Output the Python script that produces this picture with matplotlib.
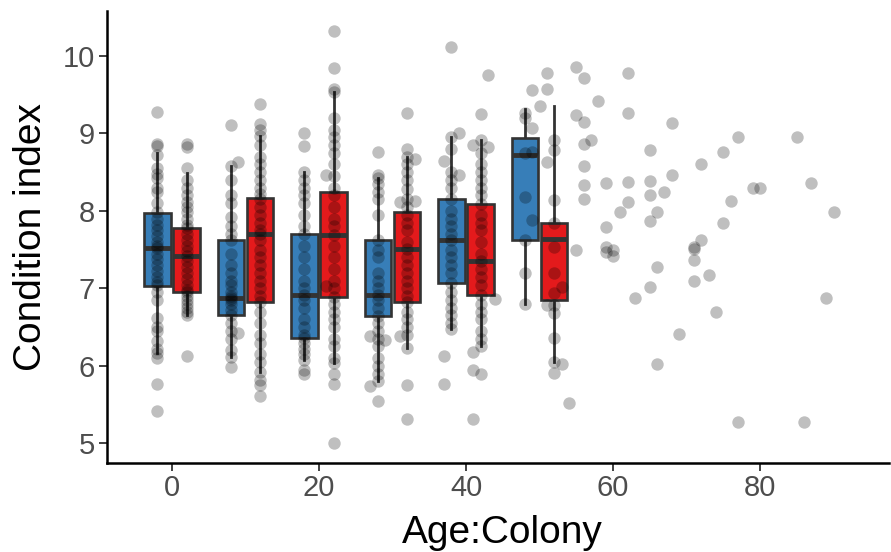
import matplotlib
matplotlib.use("Agg")
import matplotlib.pyplot as plt

plt.rcParams['font.family'] = ['Liberation Sans', 'DejaVu Sans']

# ---- box summary stats (Age:Colony groups) ----
box_x = [-2, 2, 8, 12, 18, 22, 28, 32, 38, 42, 48, 52]
box_colony = ['A', 'B', 'A', 'B', 'A', 'B', 'A', 'B', 'A', 'B', 'A', 'B']
q1 = [7.03, 6.95, 6.65, 6.83, 6.36, 6.89, 6.64, 6.83, 7.07, 6.91, 7.63, 6.85]
med = [7.52, 7.42, 6.88, 7.70, 6.91, 7.69, 6.92, 7.51, 7.62, 7.35, 8.72, 7.64]
q3 = [7.97, 7.78, 7.62, 8.17, 7.70, 8.25, 7.63, 7.99, 8.15, 8.09, 8.94, 7.85]
whislo = [6.16, 6.66, 6.11, 5.92, 6.07, 6.04, 5.80, 6.23, 6.48, 6.26, 6.80, 6.05]
whishi = [8.75, 8.49, 8.58, 8.97, 8.50, 9.53, 8.42, 8.70, 8.95, 8.91, 9.32, 9.36]

# ---- raw points ----
pts_m2 = [9.28, 8.86, 8.84, 8.72, 8.55, 8.48, 8.42, 8.30, 8.25, 8.10, 7.98, 7.90, 7.82,
          7.75, 7.68, 7.60, 7.55, 7.52, 7.45, 7.38, 7.30, 7.22, 7.15, 7.08, 7.04, 6.95,
          6.85, 6.62, 6.50, 6.45, 6.32, 6.22, 6.16, 6.10, 5.77, 5.42]
pts_2 = [8.86, 8.82, 8.56, 8.40, 8.30, 8.20, 8.12, 8.05, 7.98, 7.90, 7.82, 7.78, 7.70,
         7.62, 7.55, 7.48, 7.42, 7.35, 7.28, 7.20, 7.12, 7.05, 6.98, 6.95, 6.90, 6.85,
         6.80, 6.75, 6.70, 6.66, 6.13]
pts_8 = [9.11, 8.58, 8.40, 8.20, 8.10, 7.92, 7.80, 7.70, 7.62, 7.45, 7.30, 7.20, 7.10,
         7.05, 6.95, 6.90, 6.88, 6.85, 6.80, 6.72, 6.65, 6.55, 6.45, 6.35, 6.20, 6.11, 5.99]
pts_9 = [8.63, 6.43]
pts_12 = [9.38, 9.12, 9.05, 8.97, 8.85, 8.70, 8.60, 8.50, 8.40, 8.30, 8.22, 8.15, 8.05,
          7.95, 7.85, 7.75, 7.70, 7.62, 7.50, 7.40, 7.30, 7.20, 7.10, 7.00, 6.90, 6.83,
          6.70, 6.55, 6.40, 6.30, 6.15, 6.05, 5.92, 5.82, 5.75, 5.61]
pts_18 = [9.00, 8.84, 8.50, 8.40, 8.30, 8.20, 8.10, 7.95, 7.80, 7.70, 7.55, 7.40, 7.25,
          7.10, 7.00, 6.92, 6.85, 6.75, 6.60, 6.50, 6.40, 6.36, 6.30, 6.22, 6.15, 6.07,
          5.95, 5.89]
pts_21 = [8.47, 7.03]
pts_22 = [10.32, 9.84, 9.58, 9.53, 9.20, 9.05, 8.95, 8.85, 8.75, 8.60, 8.45, 8.30, 8.20,
          8.05, 7.90, 7.80, 7.69, 7.55, 7.40, 7.25, 7.10, 7.00, 6.89, 6.80, 6.70, 6.60,
          6.50, 6.35, 6.25, 6.10, 6.04, 5.90, 5.76, 5.01]
pts_27 = [6.38, 5.74]
pts_28 = [8.76, 8.46, 8.42, 8.35, 8.25, 8.15, 7.95, 7.63, 7.50, 7.40, 7.20, 7.10, 7.00,
          6.92, 6.85, 6.75, 6.64, 6.55, 6.45, 6.35, 6.25, 6.10, 6.00, 5.90, 5.80, 5.54]
pts_29 = [6.34]
pts_31 = [8.11, 6.38]
pts_32 = [9.26, 8.80, 8.70, 8.60, 8.50, 8.40, 8.28, 8.15, 8.05, 7.95, 7.85, 7.75, 7.60,
          7.51, 7.40, 7.30, 7.20, 7.10, 7.00, 6.90, 6.83, 6.70, 6.60, 6.50, 6.40, 6.23,
          5.75, 5.31]
pts_33 = [8.67, 8.13]
pts_37 = [8.64, 6.13, 5.77]
pts_38 = [10.12, 8.95, 8.80, 8.50, 8.40, 8.30, 8.15, 8.00, 7.90, 7.80, 7.70, 7.62, 7.50,
          7.40, 7.30, 7.20, 7.07, 6.95, 6.85, 6.75, 6.65, 6.55, 6.48]
pts_39 = [9.00, 8.46]
pts_41 = [8.85, 6.18, 5.94, 5.32]
pts_42 = [9.25, 8.91, 8.75, 8.60, 8.50, 8.40, 8.30, 8.20, 8.09, 7.95, 7.85, 7.75, 7.60,
          7.45, 7.35, 7.25, 7.15, 7.05, 6.91, 6.80, 6.70, 6.60, 6.45, 6.35, 6.26, 5.89]
pts_43 = [9.76, 8.83]
pts_44 = [6.86]
pts_48 = [9.26, 9.20, 8.75, 8.18, 7.62, 7.20, 6.80]
pts_49 = [9.56, 9.07, 8.76, 7.88]
pts_50 = [9.35]
pts_51 = [9.78, 9.57, 8.63, 6.79]
pts_52 = [8.92, 8.79, 8.14, 7.85, 7.54, 7.20, 6.94, 6.79, 6.68, 6.36, 6.05, 5.91]
pts_53 = [7.02, 6.03]
pts_54 = [5.52]

# older ages (single points)
old_age = [55, 55, 55, 56, 56, 56, 56, 56, 56, 57, 58, 59, 59, 59, 59, 60, 60, 61,
           62, 62, 62, 62, 63, 65, 65, 65, 65, 65, 66, 66, 66, 67, 68, 68, 69,
           71, 71, 71, 71, 72, 72, 73, 74, 75, 75, 76, 77, 77, 79, 80, 85, 86, 87, 89, 90]
old_ci = [9.86, 9.24, 7.50, 9.71, 9.15, 8.86, 8.58, 8.34, 8.16, 8.92, 9.42, 8.36, 7.79,
          7.54, 7.47, 7.50, 7.42, 7.99, 9.78, 9.26, 8.37, 8.12, 6.87, 8.79, 8.38, 8.21,
          7.87, 7.02, 7.98, 7.27, 6.02, 8.25, 9.14, 8.46, 6.41, 7.54, 7.51, 7.36, 7.10,
          8.61, 7.62, 7.17, 6.70, 8.76, 7.84, 8.13, 8.96, 5.27, 8.30, 8.30, 8.95, 5.28,
          8.36, 6.87, 7.99]

colony_colors = {'A': '#377EB8', 'B': '#E41A1C'}

fig = plt.figure(figsize=(8.91, 5.52), dpi=100)
ax = fig.add_axes([0.1201, 0.1618, 0.8777, 0.8182])

stats = []
for i in range(len(box_x)):
    stats.append(dict(q1=q1[i], med=med[i], q3=q3[i], whislo=whislo[i], whishi=whishi[i]))

edge = '#333333'
bp = ax.bxp(stats, positions=box_x, widths=3.6, patch_artist=True,
            showfliers=False, showcaps=False, manage_ticks=False,
            boxprops=dict(edgecolor=edge, linewidth=1.9),
            medianprops=dict(color=edge, linewidth=3.5, solid_capstyle='butt'),
            whiskerprops=dict(color=edge, linewidth=2.0))
for patch, col in zip(bp['boxes'], box_colony):
    patch.set_facecolor(colony_colors[col])
    patch.set_zorder(2)
for ln in bp['medians']:
    ln.set_zorder(2.5)
for ln in bp['whiskers']:
    ln.set_zorder(1.5)

groups = [(-2, pts_m2), (2, pts_2), (8, pts_8), (9, pts_9), (12, pts_12), (18, pts_18),
          (21, pts_21), (22, pts_22), (27, pts_27), (28, pts_28), (29, pts_29),
          (31, pts_31), (32, pts_32), (33, pts_33), (37, pts_37), (38, pts_38),
          (39, pts_39), (41, pts_41), (42, pts_42), (43, pts_43), (44, pts_44),
          (48, pts_48), (49, pts_49), (50, pts_50), (51, pts_51), (52, pts_52),
          (53, pts_53), (54, pts_54)]
px, py = [], []
for gx, vals in groups:
    px += [gx] * len(vals)
    py += vals
px += old_age
py += old_ci
ax.scatter(px, py, s=80, color='black', alpha=0.25, linewidths=0, zorder=3)

ax.set_xlim(-8.84, 97.55)
ax.set_ylim(4.75, 10.58)
ax.set_xticks([0, 20, 40, 60, 80])
ax.set_yticks([5, 6, 7, 8, 9, 10])

for s in ['top', 'right']:
    ax.spines[s].set_visible(False)
for s in ['left', 'bottom']:
    ax.spines[s].set_linewidth(1.8)
    ax.spines[s].set_color('black')
ax.tick_params(axis='both', length=5.5, width=1.3, color='#333333',
               labelsize=21, labelcolor='#4D4D4D', pad=3)

ax.set_xlabel('Age:Colony', fontsize=28, color='black', labelpad=7)
ax.xaxis.set_label_coords(0.505, -0.115)
ax.set_ylabel('Condition index', fontsize=28, color='black', labelpad=10)

fig.savefig('out.png', dpi=100)
